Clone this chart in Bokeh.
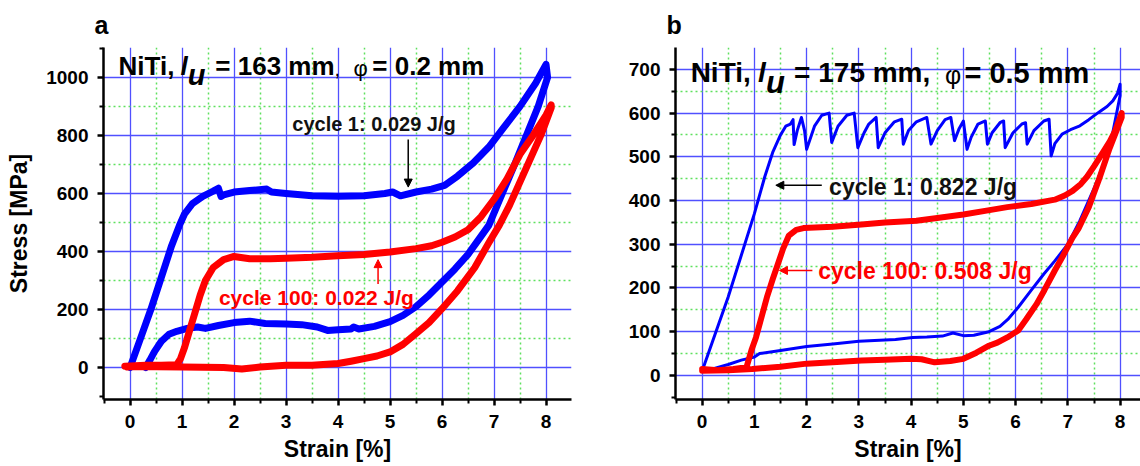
from bokeh.plotting import figure
from bokeh.layouts import row
from bokeh.models import FixedTicker, Label, Arrow, NormalHead, Range1d
from bokeh.embed import file_html
from bokeh.resources import INLINE

# ---------------- data: panel a (l_u = 163 mm, phi = 0.2 mm) ----------------
a_c1_strain = [0, 0.2, 0.4, 0.6, 0.8, 0.95, 1.05, 1.2, 1.4, 1.6, 1.7, 1.75, 1.8, 2.0, 2.3, 2.63,
               2.72, 3.0, 3.5, 4.0, 4.5, 4.9, 5.05, 5.2, 5.5, 5.8, 6.05, 6.3, 6.6, 6.9, 7.2, 7.5,
               7.8, 8.0,
               8.03, 7.85, 7.6, 7.35, 7.1, 6.9, 6.7, 6.5, 6.25, 6.0, 5.75, 5.5, 5.25, 5.0, 4.7,
               4.4, 4.3, 4.25, 4.0, 3.8, 3.6, 3.3, 3.0, 2.6, 2.3, 2.0, 1.7, 1.45, 1.3, 1.1, 0.9,
               0.75, 0.6, 0.47, 0.38, 0.3]
a_c1_stress = [0, 100, 200, 310, 420, 490, 530, 565, 590, 608, 618, 590, 595, 605, 610, 615,
               605, 600, 592, 590, 592, 600, 605, 592, 605, 615, 628, 660, 705, 760, 830, 900,
               980, 1045,
               1000, 900, 790, 680, 575, 490, 440, 390, 340, 295, 250, 210, 180, 158, 142,
               133, 140, 133, 130, 128, 140, 148, 150, 152, 160, 155, 145, 135, 140, 135, 125,
               115, 90, 55, 25, 0]

a_c100_strain = [-0.1, 0.3, 0.6, 0.9, 0.97, 1.05, 1.15, 1.25, 1.35, 1.45, 1.6, 1.8, 2.0, 2.3,
                 2.7, 3.0, 3.5, 4.0, 4.5, 5.0, 5.5, 5.8, 6.0, 6.25, 6.5, 6.75, 7.0, 7.25, 7.5,
                 7.75, 8.0, 8.1,
                 8.1, 7.9, 7.7, 7.5, 7.3, 7.1, 6.9, 6.63, 6.3, 6.0, 5.75, 5.5, 5.25, 5.0, 4.75,
                 4.5, 4.25, 4.0, 3.5, 3.0, 2.5, 2.15, 1.8, 1.0, 0.5, 0.0, -0.05]
a_c100_stress = [5, 8, 8, 10, 30, 70, 130, 190, 250, 300, 345, 372, 383, 375,
                 375, 377, 380, 385, 390, 398, 410, 420, 432, 450, 475, 520, 580, 650, 735,
                 800, 870, 905,
                 895, 800, 720, 640, 560, 490, 430, 345, 265, 203, 155, 117, 80, 54, 40,
                 31, 22, 14, 8, 8, 2, -5, 0, 2, 3, 3, 2]

# ---------------- data: panel b (l_u = 175 mm, phi = 0.5 mm) ----------------
b_c1_strain = [0, 0.5, 1.0, 1.2, 1.35, 1.5, 1.6, 1.69, 1.74, 1.76, 1.82, 1.9, 1.96, 2.0, 2.15,
               2.29, 2.43, 2.48, 2.6, 2.77, 2.91, 2.98, 3.1, 3.19, 3.33, 3.37, 3.5, 3.68, 3.82,
               3.85, 3.95, 4.1, 4.3, 4.38, 4.5, 4.65, 4.76, 4.83, 4.92, 5.0, 5.07, 5.15, 5.28,
               5.42, 5.46, 5.55, 5.7, 5.77, 5.8, 5.95, 6.12, 6.19, 6.22, 6.35, 6.54, 6.64, 6.68,
               6.75, 6.89, 7.05, 7.23, 7.4, 7.58, 7.75, 7.86, 7.95, 8.0,
               8.0, 7.95, 7.79, 7.51, 7.23, 7.0, 6.75, 6.54, 6.3, 6.05, 5.85, 5.7, 5.49, 5.2,
               5.0, 4.8, 4.6, 4.3, 4.03, 3.7, 3.3, 3.0, 2.5, 2.0, 1.5, 1.1, 1.0, 0.75, 0.5,
               0.2, 0.0]
b_c1_stress = [10, 180, 370, 455, 510, 550, 570, 575, 585, 528, 560, 590, 560, 517, 570,
               595, 600, 533, 570, 595, 600, 521, 555, 575, 590, 521, 555, 580, 586,
               529, 560, 580, 590, 529, 560, 585, 590, 537, 565, 582, 517, 545, 575,
               582, 529, 555, 578, 582, 521, 555, 575, 578, 529, 560, 582, 586, 502,
               530, 552, 562, 571, 585, 601, 615, 628, 645, 666,
               640, 610, 514, 430, 354, 300, 262, 232, 195, 156, 128, 112, 100, 92,
               91, 97, 90, 88, 87, 82, 80, 78, 72, 66, 57, 50, 42, 35, 25,
               15, 12]

b_c100_strain = [0, 0.3, 0.6, 0.85, 0.95, 1.03, 1.14, 1.24, 1.35, 1.45, 1.55, 1.66, 1.8, 1.94,
                 2.5, 3.05, 3.5, 4.1, 4.5, 5.0, 5.5, 5.84, 6.3, 6.75, 6.95, 7.09, 7.25, 7.37,
                 7.5, 7.65, 7.8, 7.9, 8.03,
                 8.03, 7.8, 7.6, 7.4, 7.2, 7.09, 6.9, 6.75, 6.55, 6.4, 6.2, 6.05, 5.84, 5.65,
                 5.49, 5.25, 5.0, 4.75, 4.45, 4.2, 4.0, 3.5, 3.05, 2.5, 2.0, 1.5, 0.96, 0.5, 0.0]
b_c100_stress = [15, 12, 15, 19, 60, 87, 135, 179, 220, 255, 290, 320, 333, 337,
                 340, 345, 350, 354, 360, 368, 378, 385, 392, 402, 412, 422, 438, 455,
                 478, 506, 535, 558, 600,
                 590, 520, 450, 385, 335, 315, 272, 240, 195, 163, 128, 103, 87, 75,
                 68, 52, 38, 33, 30, 37, 38, 36, 34, 30, 27, 20, 15, 12, 11]

# ticks
strain_ticks = [0, 1, 2, 3, 4, 5, 6, 7, 8]
strain_minor = [0.5, 1.5, 2.5, 3.5, 4.5, 5.5, 6.5, 7.5]
strain_minor_axis = [-0.5, 0.5, 1.5, 2.5, 3.5, 4.5, 5.5, 6.5, 7.5, 8.5]
a_stress_ticks = [0, 200, 400, 600, 800, 1000]
a_stress_minor = [100, 300, 500, 700, 900]
a_stress_minor_axis = [-100, 100, 300, 500, 700, 900, 1100]
b_stress_ticks = [0, 100, 200, 300, 400, 500, 600, 700]
b_stress_minor = [50, 150, 250, 350, 450, 550, 650]
b_stress_minor_axis = [-50, 50, 150, 250, 350, 450, 550, 650]

# annotation texts
a_label_c1 = "cycle 1: 0.029 J/g"
a_label_c100 = "cycle 100: 0.022 J/g"
b_label_c1 = "cycle 1: 0.822 J/g"
b_label_c100 = "cycle 100: 0.508 J/g"

FONT = "Liberation Sans"
BLUE = "#0000ff"
RED = "#ff0000"
GRID_BLUE = "#5050ff"
GRID_GREEN = "#5ee05e"
BLACK = "#000000"


def make_fig(width, xr, yr, yt, ymin_grid, ymin_axis, ylabel, tag, border_left, border_right):
    p = figure(width=width, height=466, x_range=Range1d(*xr), y_range=Range1d(*yr),
               output_backend="svg", toolbar_location=None,
               min_border_top=46, min_border_bottom=67, min_border_left=border_left,
               min_border_right=border_right)
    p.outline_line_color = None
    p.background_fill_color = "white"
    p.border_fill_color = "white"

    p.xaxis.ticker = FixedTicker(ticks=strain_ticks, minor_ticks=strain_minor_axis)
    p.yaxis.ticker = FixedTicker(ticks=yt, minor_ticks=ymin_axis)
    p.xgrid.ticker = FixedTicker(ticks=strain_ticks, minor_ticks=strain_minor)
    p.ygrid.ticker = FixedTicker(ticks=yt, minor_ticks=ymin_grid)
    for g in (p.xgrid, p.ygrid):
        g.grid_line_color = GRID_BLUE
        g.grid_line_width = 1.3
        g.minor_grid_line_color = GRID_GREEN
        g.minor_grid_line_width = 1.5
        g.minor_grid_line_dash = "2 3"

    p.axis.axis_line_width = 2.5
    p.axis.axis_line_color = BLACK
    p.axis.major_tick_line_width = 2.5
    p.axis.major_tick_line_color = BLACK
    p.axis.major_tick_in = 0
    p.axis.major_tick_out = 6
    p.axis.minor_tick_line_width = 2
    p.axis.minor_tick_line_color = BLACK
    p.axis.minor_tick_in = 0
    p.axis.minor_tick_out = 4
    p.axis.major_label_text_font = FONT
    p.axis.major_label_text_font_size = "19px"
    p.axis.major_label_text_font_style = "bold"
    p.axis.major_label_text_color = BLACK
    p.yaxis.major_label_standoff = 9
    p.xaxis.major_label_standoff = 9
    p.axis.axis_label_text_font = FONT
    p.axis.axis_label_text_font_size = "23px"
    p.axis.axis_label_text_font_style = "bold"
    p.axis.axis_label_text_color = BLACK
    p.xaxis.axis_label = "Strain [%]"
    p.xaxis.axis_label_standoff = 5
    if ylabel:
        p.yaxis.axis_label = ylabel
        p.yaxis.axis_label_standoff = 11

    p.title.text = tag
    p.title.text_font = FONT
    p.title.text_font_size = "25px"
    p.title.text_font_style = "bold"
    p.title.text_color = BLACK
    p.title.align = "left"
    p.title.offset = -9
    p.title.standoff = 17
    return p


def add_title(p, pieces):
    for txt, x, y, size, style in pieces:
        p.add_layout(Label(x=x, y=y, text=txt, text_font=FONT, text_font_size=size,
                           text_font_style=style, text_color=BLACK,
                           text_baseline="middle", text_align="left"))


# ---------------- panel a ----------------
pa = make_fig(580, (-0.51, 8.49), (-110, 1103), a_stress_ticks, a_stress_minor,
              a_stress_minor_axis, "Stress [MPa]", "a", 103, 9)
pa.line(a_c1_strain, a_c1_stress, line_width=7, color=BLUE, line_join="round", line_cap="round")
pa.line(a_c100_strain, a_c100_stress, line_width=7, color=RED, line_join="round", line_cap="round")

add_title(pa, [("NiTi,", -0.22, 1038, "26px", "bold"),
               ("l", 0.97, 1038, "26px", "bold italic"),
               ("u", 1.11, 1008, "29px", "bold italic"),
               ("= 163 mm", 1.64, 1038, "26px", "bold"),
               (",", 3.93, 1030, "20px", "normal"),
               ("\u03c6", 4.3, 1030, "22px", "normal"),
               ("= 0.2 mm", 4.66, 1038, "26px", "bold")])

pa.add_layout(Label(x=3.12, y=838, text=a_label_c1, text_font=FONT, text_font_size="20px",
                    text_font_style="bold", text_color="#111111", text_baseline="middle"))
pa.add_layout(Arrow(end=NormalHead(size=8, fill_color=BLACK, line_color=BLACK),
                    x_start=5.35, y_start=786, x_end=5.35, y_end=622,
                    line_color=BLACK, line_width=1.5))
pa.add_layout(Label(x=1.71, y=242, text=a_label_c100, text_font=FONT, text_font_size="21px",
                    text_font_style="bold", text_color=RED, text_baseline="middle"))
pa.add_layout(Arrow(end=NormalHead(size=8, fill_color=RED, line_color=RED),
                    x_start=4.77, y_start=288, x_end=4.77, y_end=372,
                    line_color=RED, line_width=1.5))

# ---------------- panel b ----------------
pb = make_fig(560, (-0.51, 8.39), (-55, 750), b_stress_ticks, b_stress_minor,
              b_stress_minor_axis, None, "b", 95, 0)
pb.line(b_c1_strain, b_c1_stress, line_width=3, color=BLUE, line_join="round")
pb.line(b_c100_strain, b_c100_stress, line_width=6, color=RED, line_join="round", line_cap="round")

add_title(pb, [("NiTi,", -0.22, 692, "28px", "bold"),
               ("l", 1.07, 692, "28px", "bold italic"),
               ("u", 1.22, 670, "31px", "bold italic"),
               ("= 175 mm,", 1.76, 692, "28px", "bold"),
               ("\u03c6", 4.65, 688, "25px", "normal"),
               ("= 0.5 mm", 5.02, 692, "29px", "bold")])

pb.add_layout(Label(x=2.43, y=430, text=b_label_c1, text_font=FONT, text_font_size="23px",
                    text_font_style="bold", text_color="#111111", text_baseline="middle"))
pb.add_layout(Arrow(end=NormalHead(size=8, fill_color=BLACK, line_color=BLACK),
                    x_start=2.29, y_start=435, x_end=1.41, y_end=435,
                    line_color=BLACK, line_width=1.5))
pb.add_layout(Label(x=2.22, y=238, text=b_label_c100, text_font=FONT, text_font_size="23px",
                    text_font_style="bold", text_color=RED, text_baseline="middle"))
pb.add_layout(Arrow(end=NormalHead(size=8, fill_color=RED, line_color=RED),
                    x_start=2.11, y_start=240, x_end=1.48, y_end=240,
                    line_color=RED, line_width=1.5))

layout = row(pa, pb)
open("out.html", "w").write(file_html(layout, INLINE))
